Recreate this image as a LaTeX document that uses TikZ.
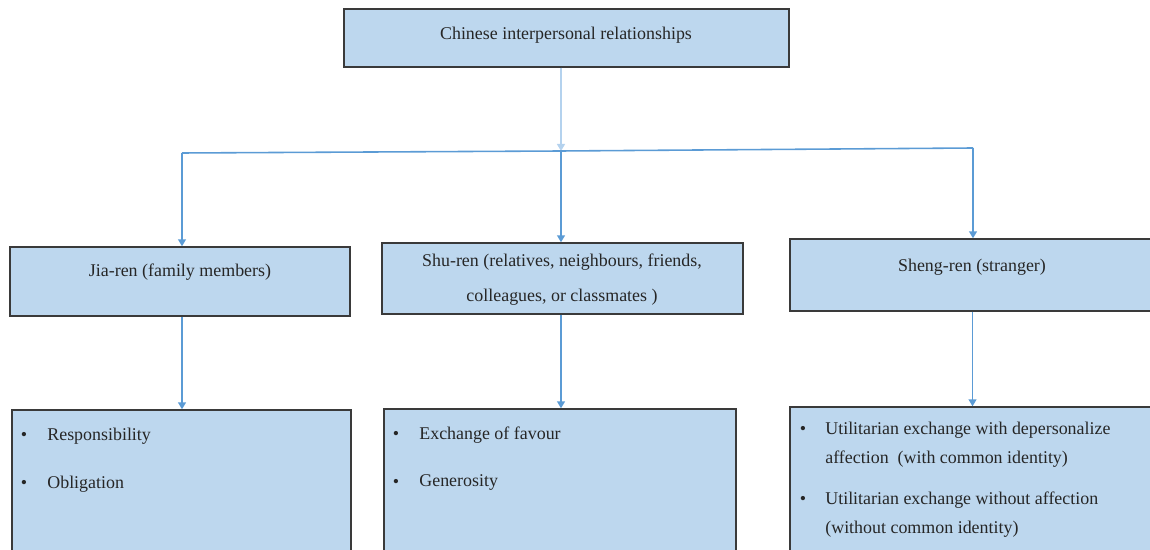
\documentclass[tikz,border=0pt]{standalone}
\usepackage{fontspec}
\setmainfont{Liberation Serif}
\usetikzlibrary{arrows.meta}
\definecolor{boxfill}{HTML}{BDD7EE}
\definecolor{boxline}{HTML}{3A3A3A}
\definecolor{linkblue}{HTML}{5B9BD5}
\definecolor{linkpale}{HTML}{B4D2EE}
\tikzset{
  box/.style={draw=boxline, line width=0.8pt, fill=boxfill, rectangle, inner sep=0pt},
  link/.style={draw=linkblue, line width=0.9pt, -{Triangle[length=4pt,width=4.5pt]}},
  plainlink/.style={draw=linkblue, line width=0.9pt},
  palelink/.style={draw=linkpale, line width=0.9pt, -{Triangle[length=4pt,width=4.5pt]}},
  label/.style={font=\fontsize{10.2}{16}\selectfont, text=black!85, inner sep=0pt},
  item/.style={label, anchor=west, align=left},
  dot/.style={label}
}
\begin{document}
\begin{tikzpicture}[x=0.02cm, y=-0.02cm]
\useasboundingbox (0,0) rectangle (1150,550);
\clip (0,0) rectangle (1150,550);

% boxes
\node[box, minimum width=8.9cm, minimum height=1.16cm] (top) at (566.5,38) {};
\node[box, minimum width=6.8cm, minimum height=1.38cm] (jia) at (180,281.5) {};
\node[box, minimum width=7.22cm, minimum height=1.42cm] (shu) at (562.5,278.5) {};
\node[box, minimum width=7.3cm, minimum height=1.44cm] (sheng) at (972.5,275) {};
\node[box, minimum width=6.78cm, minimum height=3cm] (bjia) at (181.5,485) {};
\node[box, minimum width=7.04cm, minimum height=3.02cm] (bshu) at (560,484.5) {};
\node[box, minimum width=7.3cm, minimum height=3.06cm] (bsheng) at (972.5,483.5) {};

% titles
\node[label] (ttop) at (566,35) {Chinese interpersonal relationships};
\node[label] (tjia) at (180,272) {Jia-ren (family members)};
\node[label, align=center, font=\fontsize{10.2}{19.8}\selectfont] (tshu) at (562,279.5)
  {Shu-ren (relatives, neighbours, friends,\\colleagues, or classmates )};
\node[label] (tsheng) at (972,267) {Sheng-ren (stranger)};

% bullet lists
\node[dot] (d1) at (24,436) {\textbullet};
\node[item] (i1) at (47,436) {Responsibility};
\node[dot] (d2) at (24,484) {\textbullet};
\node[item] (i2) at (47,484) {Obligation};

\node[dot] (d3) at (396,435) {\textbullet};
\node[item] (i3) at (419,435) {Exchange of favour};
\node[dot] (d4) at (396,483) {\textbullet};
\node[item] (i4) at (419,483) {Generosity};

\node[dot] (d5) at (803,430) {\textbullet};
\node[item, font=\fontsize{10.2}{16.4}\selectfont] (i5) at (825,444.5)
  {Utilitarian exchange with depersonalize\\affection~~(with common identity)};
\node[dot] (d6) at (803,500) {\textbullet};
\node[item, font=\fontsize{10.2}{16.4}\selectfont] (i6) at (825,514.5)
  {Utilitarian exchange without affection\\(without common identity)};

% connectors
\coordinate (bus) at (561,151);
\coordinate (busl) at (182,153);
\coordinate (busr) at (973,148);
\draw[palelink] (top.south -| bus) -- (bus);
\draw[plainlink] (busl) -- (bus) -- (busr);
\draw[link] (busl) -- (busl |- jia.north);
\draw[link] (bus) -- (bus |- shu.north);
\draw[link] (busr) -- (busr |- sheng.north);
\draw[link] (busl |- jia.south) -- (busl |- bjia.north);
\draw[link] (bus |- shu.south) -- (bus |- bshu.north);
\draw[link] (sheng.south) -- (bsheng.north);
\end{tikzpicture}
\end{document}
